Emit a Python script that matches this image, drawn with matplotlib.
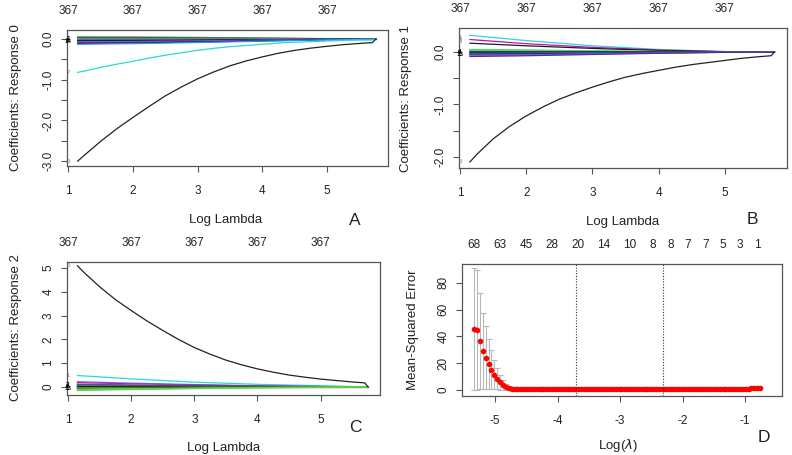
import numpy as np
import matplotlib.pyplot as plt

plt.rcParams['font.family'] = ['Liberation Sans', 'DejaVu Sans']
plt.rcParams['axes.unicode_minus'] = False

# ---- coefficient paths (A, B, C) ----
log_lambda = [1.15, 1.25, 1.5, 1.75, 2.0, 2.25, 2.5, 2.75, 3.0, 3.25, 3.5,
              3.75, 4.0, 4.25, 4.5, 4.75, 5.0, 5.25, 5.5, 5.7, 5.75]
log_lambda_small = [1.15, 2.0, 3.0, 4.0, 5.0, 5.75]
df_at = [1, 2, 3, 4, 5]
df_labels = ['367', '367', '367', '367', '367']

resp0_black = [-3.0, -2.86, -2.52, -2.21, -1.93, -1.66, -1.40, -1.18, -0.98, -0.81, -0.66,
               -0.54, -0.44, -0.35, -0.28, -0.225, -0.18, -0.14, -0.11, -0.09, 0.0]
resp0_cyan = [-0.82, -0.79, -0.70, -0.62, -0.55, -0.47, -0.40, -0.34, -0.28, -0.23, -0.19,
              -0.16, -0.13, -0.10, -0.08, -0.065, -0.05, -0.035, -0.025, -0.02, 0.0]
resp0_small = [
    [0.06, 0.055, 0.04, 0.025, 0.01, 0.0],
    [0.045, 0.04, 0.03, 0.02, 0.007, 0.0],
    [0.035, 0.03, 0.022, 0.015, 0.005, 0.0],
    [0.02, 0.018, 0.013, 0.008, 0.003, 0.0],
    [0.01, 0.009, 0.007, 0.004, 0.001, 0.0],
    [0.0, 0.0, 0.0, 0.0, 0.0, 0.0],
    [-0.01, -0.009, -0.007, -0.005, -0.002, 0.0],
    [-0.025, -0.022, -0.016, -0.01, -0.004, 0.0],
    [-0.04, -0.036, -0.027, -0.017, -0.006, 0.0],
    [-0.055, -0.05, -0.038, -0.024, -0.008, 0.0],
    [-0.07, -0.063, -0.048, -0.03, -0.01, 0.0],
    [-0.09, -0.08, -0.06, -0.038, -0.013, 0.0],
    [-0.11, -0.1, -0.075, -0.048, -0.016, 0.0],
    [-0.13, -0.115, -0.087, -0.055, -0.02, 0.0],
]

resp1_black = [-2.1, -1.96, -1.66, -1.42, -1.22, -1.05, -0.90, -0.78, -0.67, -0.57, -0.48,
               -0.41, -0.35, -0.29, -0.24, -0.20, -0.16, -0.12, -0.09, -0.07, 0.0]
resp1_small = [
    [0.32, 0.22, 0.12, 0.05, 0.01, 0.0],
    [0.24, 0.16, 0.09, 0.04, 0.008, 0.0],
    [0.17, 0.12, 0.07, 0.03, 0.006, 0.0],
    [0.05, 0.04, 0.025, 0.012, 0.002, 0.0],
    [0.035, 0.03, 0.02, 0.01, 0.002, 0.0],
    [0.02, 0.017, 0.012, 0.006, 0.001, 0.0],
    [0.005, 0.004, 0.003, 0.002, 0.0, 0.0],
    [-0.01, -0.009, -0.006, -0.003, -0.001, 0.0],
    [-0.025, -0.021, -0.014, -0.007, -0.001, 0.0],
    [-0.04, -0.034, -0.022, -0.011, -0.002, 0.0],
    [-0.055, -0.046, -0.03, -0.015, -0.003, 0.0],
    [-0.07, -0.058, -0.038, -0.019, -0.004, 0.0],
    [-0.085, -0.07, -0.046, -0.023, -0.005, 0.0],
]

resp2_black = [5.1, 4.83, 4.22, 3.68, 3.22, 2.78, 2.38, 2.0, 1.66, 1.38, 1.13,
               0.93, 0.76, 0.62, 0.50, 0.41, 0.33, 0.27, 0.21, 0.17, 0.0]
resp2_small = [
    [0.48, 0.34, 0.2, 0.11, 0.05, 0.0],
    [0.22, 0.16, 0.1, 0.05, 0.02, 0.0],
    [0.18, 0.13, 0.08, 0.04, 0.015, 0.0],
    [0.12, 0.09, 0.055, 0.03, 0.01, 0.0],
    [0.08, 0.06, 0.04, 0.02, 0.008, 0.0],
    [0.05, 0.04, 0.025, 0.013, 0.005, 0.0],
    [0.02, 0.015, 0.01, 0.005, 0.002, 0.0],
    [0.0, 0.0, 0.0, 0.0, 0.0, 0.0],
    [-0.03, -0.025, -0.015, -0.008, -0.003, 0.0],
    [-0.06, -0.05, -0.03, -0.016, -0.006, 0.0],
    [-0.09, -0.07, -0.045, -0.024, -0.009, 0.0],
    [-0.12, -0.09, -0.06, -0.03, -0.012, 0.0],
    [-0.15, -0.11, -0.07, -0.037, -0.015, 0.0],
]

# ---- cross-validation curve (D) ----
cv_loglam_start, cv_loglam_end, n_lambda = -5.336, -0.76, 100
cvm = [45.5, 45.0, 36.5, 29.0, 24.0, 19.3, 15.2, 11.5, 8.3, 5.8,
       3.8, 2.4, 1.4, 0.9, 0.75, 0.7, 0.7, 0.7, 0.7, 0.7,
       0.7, 0.7, 0.7, 0.7, 0.7, 0.7, 0.7, 0.7, 0.7, 0.7,
       0.7, 0.7, 0.7, 0.7, 0.7, 0.7, 0.7, 0.7, 0.7, 0.7,
       0.7, 0.7, 0.7, 0.7, 0.7, 0.7, 0.7, 0.7, 0.7, 0.7,
       0.7, 0.7, 0.7, 0.7, 0.7, 0.7, 0.7, 0.7, 0.7, 0.7,
       0.7, 0.7, 0.7, 0.7, 0.7, 0.7, 0.7, 0.7, 0.7, 0.7,
       0.7, 0.7, 0.7, 0.7, 0.7, 0.7, 0.7, 0.7, 0.7, 0.7,
       0.7, 0.7, 0.72, 0.74, 0.76, 0.78, 0.8, 0.82, 0.85, 0.88,
       0.9, 0.93, 0.96, 0.99, 1.02, 1.05, 1.1, 1.15, 1.2, 1.25]
cvsd = [45.5, 44.8, 36.0, 28.5, 23.5, 18.7, 14.6, 11.1, 7.9, 5.5,
        3.6, 2.1, 1.2, 0.6, 0.3, 0.2, 0.15, 0.15, 0.15, 0.15,
        0.15, 0.15, 0.15, 0.15, 0.15, 0.15, 0.15, 0.15, 0.15, 0.15,
        0.15, 0.15, 0.15, 0.15, 0.15, 0.15, 0.15, 0.15, 0.15, 0.15,
        0.15, 0.15, 0.15, 0.15, 0.15, 0.15, 0.15, 0.15, 0.15, 0.15,
        0.15, 0.15, 0.15, 0.15, 0.15, 0.15, 0.15, 0.15, 0.15, 0.15,
        0.15, 0.15, 0.15, 0.15, 0.15, 0.15, 0.15, 0.15, 0.15, 0.15,
        0.15, 0.15, 0.15, 0.15, 0.15, 0.15, 0.15, 0.15, 0.15, 0.15,
        0.15, 0.15, 0.15, 0.15, 0.15, 0.15, 0.15, 0.15, 0.15, 0.15,
        0.15, 0.15, 0.15, 0.15, 0.15, 0.15, 0.15, 0.15, 0.15, 0.15]
nz_index = [0, 9, 18, 27, 36, 45, 54, 62, 68, 74, 80, 86, 92, 98]
nz_labels = ['68', '63', '45', '28', '20', '14', '10', '8', '8', '7', '7', '5', '3', '1']
lambda_min, lambda_1se = -3.71, -2.32

K, R, G, B, C, M = '#1E1E1E', '#DF536B', '#61D04F', '#2297E6', '#28D8D8', '#CD0BBC'
colors0 = [G, C, K, R, G, K, M, B, K, K, B, M, K, B]
colors1 = [C, M, K, G, C, G, K, K, B, K, M, B, '#5B2C83']
colors2 = [C, B, M, R, K, B, K, K, G, K, G, G, G]
TXT = '#222222'
EDGE = '#555555'

fig = plt.figure(figsize=(7.92, 4.55), dpi=100)


def px_rect(l, r, t, b):
    return [l / 792, 1 - b / 455, (r - l) / 792, (b - t) / 455]


def style_axes(ax):
    for s in ax.spines.values():
        s.set_color(EDGE)
        s.set_linewidth(0.9)
    ax.tick_params(direction='out', length=4, width=0.8, color=EDGE,
                   labelsize=8.5, labelcolor=TXT)
    ax.tick_params(axis='x', pad=10)
    ax.tick_params(axis='y', pad=5)
    for t in ax.get_yticklabels():
        t.set_rotation(90)
        t.set_va('center')


def top_labels(ax, pos, labels):
    top = ax.secondary_xaxis('top')
    top.set_xticks(pos, labels=labels)
    top.tick_params(length=0, pad=9.5, labelsize=8.5, labelcolor=TXT)
    top.spines['top'].set_visible(False)


def coef_panel(rect, big, big_colors, big_tags, small, small_colors, ylim, yticks,
               ylabs, near):
    ax = fig.add_axes(rect)
    for path, c in zip(small, small_colors):
        ax.plot(log_lambda_small, path, color=c, lw=0.9)
    # variable numbers at the left end: the near-zero ones pile into one blob
    starts = [p[0] for p in small]
    inner = [k for k, v in enumerate(starts) if abs(v) < near]
    outer = [k for k, v in enumerate(starts) if abs(v) >= near]
    pick = [inner[0], inner[len(inner) // 2], inner[-1]]
    ax.text(1.0, np.mean([starts[k] for k in inner]), '\n'.join(str(k + 1) for k in pick),
            fontsize=4.5, fontweight='bold', color='#000000', ha='center',
            va='center', linespacing=0.2)
    if outer:
        ax.text(1.0, np.mean([starts[k] for k in outer]),
                '\n'.join(str(k + 1) for k in outer), fontsize=4,
                color='#777777', ha='center', va='center', linespacing=0.2)
    for path, c, tag in zip(big, big_colors, big_tags):
        ax.plot(log_lambda, path, color=c, lw=0.9)
        ax.text(1.0, path[0], tag, fontsize=4.5, color='#777777',
                ha='center', va='center')
    ax.set_xlim(0.985, 5.94)
    ax.set_ylim(*ylim)
    ax.set_xticks([1, 2, 3, 4, 5])
    ax.set_yticks(yticks, labels=ylabs)
    style_axes(ax)
    top_labels(ax, df_at, df_labels)
    return ax


half = ['0.0', '', '-1.0', '', '-2.0', '', '-3.0']
coef_panel(px_rect(67, 388, 30, 166), [resp0_cyan, resp0_black],
           [C, '#222222'], ['7', '5'], resp0_small, colors0,
           (-3.12, 0.22), [0, -0.5, -1, -1.5, -2, -2.5, -3], half, 0.15)
coef_panel(px_rect(459, 787, 28, 168), [resp1_black], ['#222222'], ['5'],
           resp1_small, colors1, (-2.215, 0.46), [0, -0.5, -1, -1.5, -2], half[:5], 0.15)
coef_panel(px_rect(67, 380, 262, 395), [resp2_black], ['#222222'], ['5'],
           resp2_small, colors2, (-0.34, 5.26), [0, 1, 2, 3, 4, 5],
           ['0', '1', '2', '3', '4', '5'], 0.3)

# panel D
axd = fig.add_axes(px_rect(462, 782, 264, 396))
cv_x = np.linspace(cv_loglam_start, cv_loglam_end, n_lambda)
cvm_a = np.array(cvm)
cvsd_a = np.array(cvsd)
axd.errorbar(cv_x, cvm_a, yerr=cvsd_a, fmt='none', ecolor='#B8B8B8',
             elinewidth=0.8, capsize=2.5, capthick=0.8)
axd.plot(cv_x, cvm_a, 'o', color='#FF0000', ms=4.0, mec='none')
axd.axvline(lambda_min, color='#333333', lw=0.8, ls=(0, (1, 1.5)))
axd.axvline(lambda_1se, color='#333333', lw=0.8, ls=(0, (1, 1.5)))
axd.set_xlim(-5.53, -0.41)
axd.set_ylim(-4.5, 94)
axd.set_xticks([-5, -4, -3, -2, -1])
axd.set_yticks([0, 20, 40, 60, 80])
style_axes(axd)
top_labels(axd, cv_x[nz_index], nz_labels)

# axis titles and panel letters
lab = dict(fontsize=9.5, color=TXT, ha='center', va='center')
let = dict(fontsize=12.5, color=TXT, ha='center', va='center')


def ftext(x, y, s, **kw):
    fig.text(x / 792, 1 - y / 455, s, **kw)


ftext(16, 98, 'Coefficients: Response 0', rotation=90, **lab)
ftext(226, 220, 'Log Lambda', **lab)
ftext(355, 220, 'A', **let)
ftext(406, 98, 'Coefficients: Response 1', rotation=90, **lab)
ftext(623, 222, 'Log Lambda', **lab)
ftext(752, 219, 'B', **let)
ftext(16, 328, 'Coefficients: Response 2', rotation=90, **lab)
ftext(224, 448, 'Log Lambda', **lab)
ftext(355, 427, 'C', **let)
ftext(413, 330, 'Mean-Squared Error', rotation=90, **lab)
ftext(618, 445, r'Log($\lambda$)', **lab)
ftext(764, 438, 'D', **let)

fig.savefig('out.png', dpi=100)
